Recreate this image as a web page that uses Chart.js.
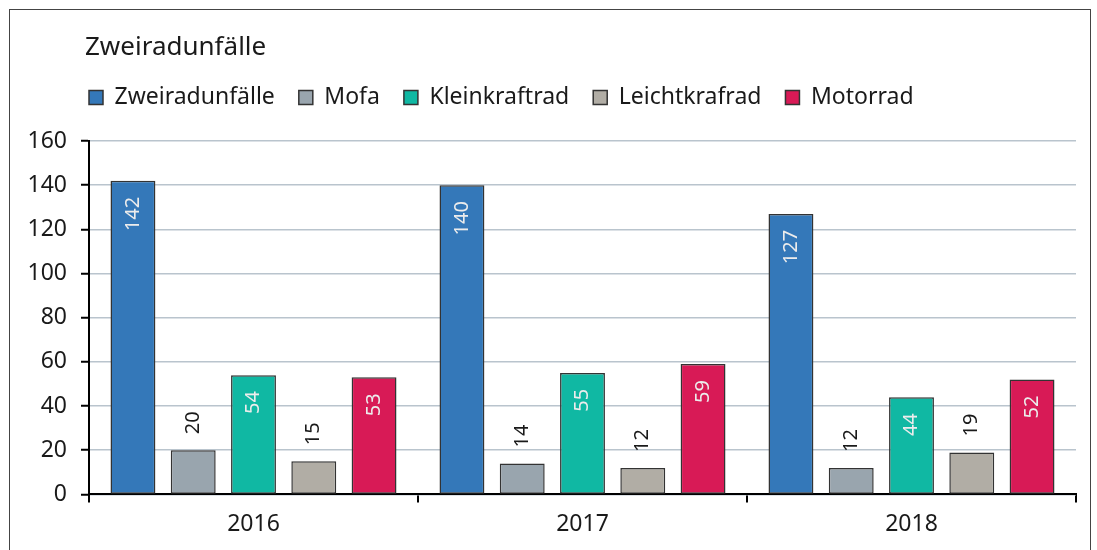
<!DOCTYPE html>
<html>
<head>
<meta charset="utf-8">
<script src="https://cdn.jsdelivr.net/npm/chart.js@4"></script>
<style>
  html, body { margin: 0; padding: 0; background: #fff; overflow: hidden; }
  #wrap { position: relative; width: 1097px; height: 550px; }
  #frame { position: absolute; left: 9px; top: 9px; width: 1082px; height: 600px; border: 1px solid #444; box-sizing: border-box; }
  canvas { position: absolute; left: 0; top: 0; }
</style>
</head>
<body>
<div id="wrap">
  <div id="frame"></div>
  <canvas id="chart" width="1097" height="550"></canvas>
</div>
<script>
// Data
const years = ['2016', '2017', '2018'];
const zweirad = [142, 140, 127];
const mofa = [20, 14, 12];
const kleinkraftrad = [54, 55, 44];
const leichtkraftrad = [15, 12, 19];
const motorrad = [53, 59, 52];
const yMax = 160;
const yStep = 20;

const FONT = "'Noto Sans', sans-serif";
const TEXT = '#1a1a1a';
const LABEL_GAP = 16;
const LEGEND_PAD = 24;

Chart.defaults.font.family = FONT;
Chart.defaults.color = TEXT;

// Rotated value labels: inside the bar top when they fit, above otherwise
const barLabels = {
    id: 'barLabels',
    afterDatasetsDraw(chart) {
        const ctx = chart.ctx;
        chart.data.datasets.forEach((ds, di) => {
            const meta = chart.getDatasetMeta(di);
            meta.data.forEach((bar, i) => {
                const txt = String(ds.data[i]);
                ctx.save();
                ctx.font = '20px ' + FONT;
                const w = ctx.measureText(txt).width;
                const h = bar.base - bar.y;
                const inside = h > w + 2 * LABEL_GAP;
                ctx.translate(bar.x, inside ? bar.y + LABEL_GAP : bar.y - LABEL_GAP);
                ctx.rotate(-Math.PI / 2);
                ctx.textAlign = inside ? 'right' : 'left';
                ctx.textBaseline = 'middle';
                ctx.fillStyle = inside ? '#ececec' : TEXT;
                ctx.fillText(txt, 0, 0);
                ctx.restore();
            });
        });
    }
};

// Title and legend start near the y axis line
const headerAlign = {
    id: 'headerAlign',
    afterLayout(chart) {
        if (chart.legend) chart.legend.left = chart.chartArea.left - LEGEND_PAD;
        if (chart.titleBlock) chart.titleBlock.left = chart.chartArea.left - 4;
    }
};

function series(label, data, color) {
    return {
        label: label,
        data: data,
        backgroundColor: color,
        borderColor: '#333',
        borderWidth: 1.5,
        borderSkipped: false
    };
}

new Chart(document.getElementById('chart'), {
    type: 'bar',
    data: {
        labels: years,
        datasets: [
            series('Zweiradunfälle', zweirad, '#3478b9'),
            series('Mofa', mofa, '#99a5ae'),
            series('Kleinkraftrad', kleinkraftrad, '#10b8a3'),
            series('Leichtkrafrad', leichtkraftrad, '#b1ada5'),
            series('Motorrad', motorrad, '#d81a56')
        ]
    },
    options: {
        responsive: false,
        animation: false,
        categoryPercentage: 0.916,
        barPercentage: 0.745,
        layout: { padding: { left: 9, right: 21, top: 21, bottom: 4 } },
        plugins: {
            title: {
                display: true,
                text: 'Zweiradunfälle',
                align: 'start',
                fullSize: false,
                color: TEXT,
                font: { size: 26, weight: 'normal', lineHeight: 1 },
                padding: { top: 14, bottom: 1 }
            },
            // empty subtitle used as a spacer between legend and plot
            subtitle: {
                display: true,
                text: '',
                weight: 500,
                font: { size: 1, lineHeight: 1 },
                padding: { top: 21, bottom: 0 }
            },
            legend: {
                position: 'top',
                align: 'start',
                labels: {
                    boxWidth: 14,
                    boxHeight: 14,
                    padding: LEGEND_PAD,
                    color: TEXT,
                    font: { size: 23 }
                }
            },
            tooltip: { enabled: false }
        },
        scales: {
            x: {
                grid: {
                    offset: true,
                    drawOnChartArea: false,
                    tickLength: 8,
                    color: '#000',
                    lineWidth: 2
                },
                border: { color: '#000', width: 2 },
                ticks: { color: TEXT, font: { size: 23 }, padding: 8 }
            },
            y: {
                min: 0,
                max: yMax,
                afterFit(scale) { scale.width = 80; },
                grid: {
                    color: '#b9c4cd',
                    lineWidth: 1.5,
                    tickLength: 8,
                    tickColor: '#000',
                    tickWidth: 2
                },
                border: { color: '#000', width: 2 },
                ticks: { stepSize: yStep, color: TEXT, font: { size: 23 }, padding: 14 }
            }
        }
    },
    plugins: [barLabels, headerAlign]
});
</script>
</body>
</html>
